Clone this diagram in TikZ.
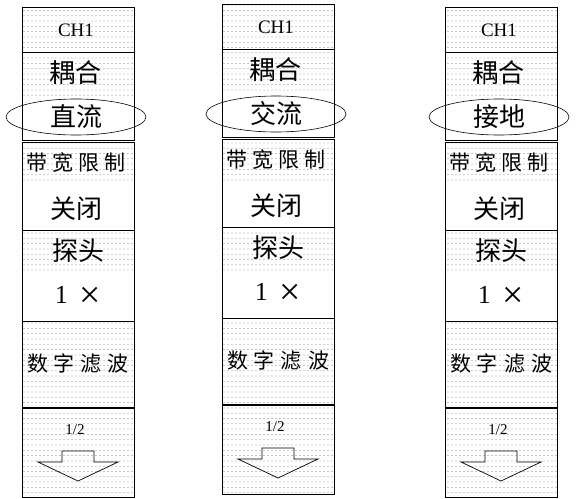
\documentclass[tikz,border=0pt]{standalone}
\usepackage{fontspec}
\setmainfont{Liberation Serif}
\newfontfamily\cjk{Noto Sans CJK SC}
\usetikzlibrary{patterns,shapes.geometric}

\pgfdeclarepatternformonly{dotgrid}{\pgfqpoint{-1pt}{-1pt}}{\pgfqpoint{1pt}{1pt}}{\pgfqpoint{4pt}{5.3pt}}{%
  \pgfpathcircle{\pgfqpoint{0pt}{0pt}}{0.38pt}\pgfusepath{fill}}

\tikzset{
  dotarea/.style={pattern=dotgrid, pattern color=black},
  menubox/.style={draw, line width=0.9pt},
  latin/.style={inner sep=0pt, font=\fontsize{19}{19}\selectfont},
  bigcjk/.style={inner sep=0pt, font=\cjk\fontsize{26}{26}\selectfont},
  smallcjk/.style={inner sep=0pt, font=\cjk\fontsize{21}{21}\selectfont},
  selmode/.style={draw, ellipse, line width=0.6pt, minimum width=140pt,
    minimum height=36pt, inner sep=0pt, font=\cjk\fontsize{26}{26}\selectfont},
  downarrow/.style={draw, line width=0.7pt}
}

\begin{document}
\begin{tikzpicture}[x=1pt, y=-1pt]
    \useasboundingbox (0,0) rectangle (577,498);

    \foreach \i/\cx/\dy/\mode in {1/78/0/直流, 2/278/-3/交流, 3/501/0/接地} {
    \begin{scope}[shift={(\cx,\dy)}]
    % coupling
    \fill[dotarea] (-56,7) rectangle (56,95);
    \draw[menubox] (-56,7) rectangle (56,140);
    \draw[menubox] (-56,52) -- (56,52);
    \node[latin] (ch\i) at (-2,30) {CH1};
    \node[bigcjk] (ouhe\i) at (-3,73) {耦合};
    \node[selmode] (mode\i) at (-2,117) {\mode};

    % bandwidth limit
    \fill[dotarea] (-56,142) rectangle (56,183);
    \draw[menubox] (-56,142) rectangle (56,230);
    \node[smallcjk] (bw\i) at (-2,163) {带\hspace{5pt}宽\hspace{5pt}限\hspace{5pt}制};
    \node[bigcjk] (off\i) at (-2,209) {关闭};

    % probe
    \fill[dotarea] (-56,230) rectangle (56,273);
    \draw[menubox] (-56,230) rectangle (56,321);
    \node[bigcjk] (probe\i) at (0,251) {探头};
    \node[inner sep=0pt, font=\fontsize{26}{26}\selectfont] (ratio\i) at (0,297)
        {1\hspace{12pt}\raisebox{-4pt}{\scalebox{1.45}{×}}};

    % digital filter
    \fill[dotarea] (-56,321) rectangle (56,408);
    \draw[menubox] (-56,321) rectangle (56,408);
    \node[smallcjk] (filter\i) at (0,363) {数\hspace{6pt}字\hspace{6pt}滤\hspace{6pt}波};

    % next page
    \fill[dotarea] (-56,408) rectangle (56,497);
    \draw[menubox] (-56,408) rectangle (56,497);
    \draw[line width=2.5pt] (-56,408) -- (56,408);
    \node[inner sep=0pt, font=\fontsize{15}{15}\selectfont] (page\i) at (-3,430) {1/2};
    \draw[downarrow] (-40,462) -- (-16,462) -- (-16,451) -- (16,451)
        -- (16,462) -- (40,462) -- (0,481) -- cycle;
    \end{scope}
    }
\end{tikzpicture}
\end{document}
